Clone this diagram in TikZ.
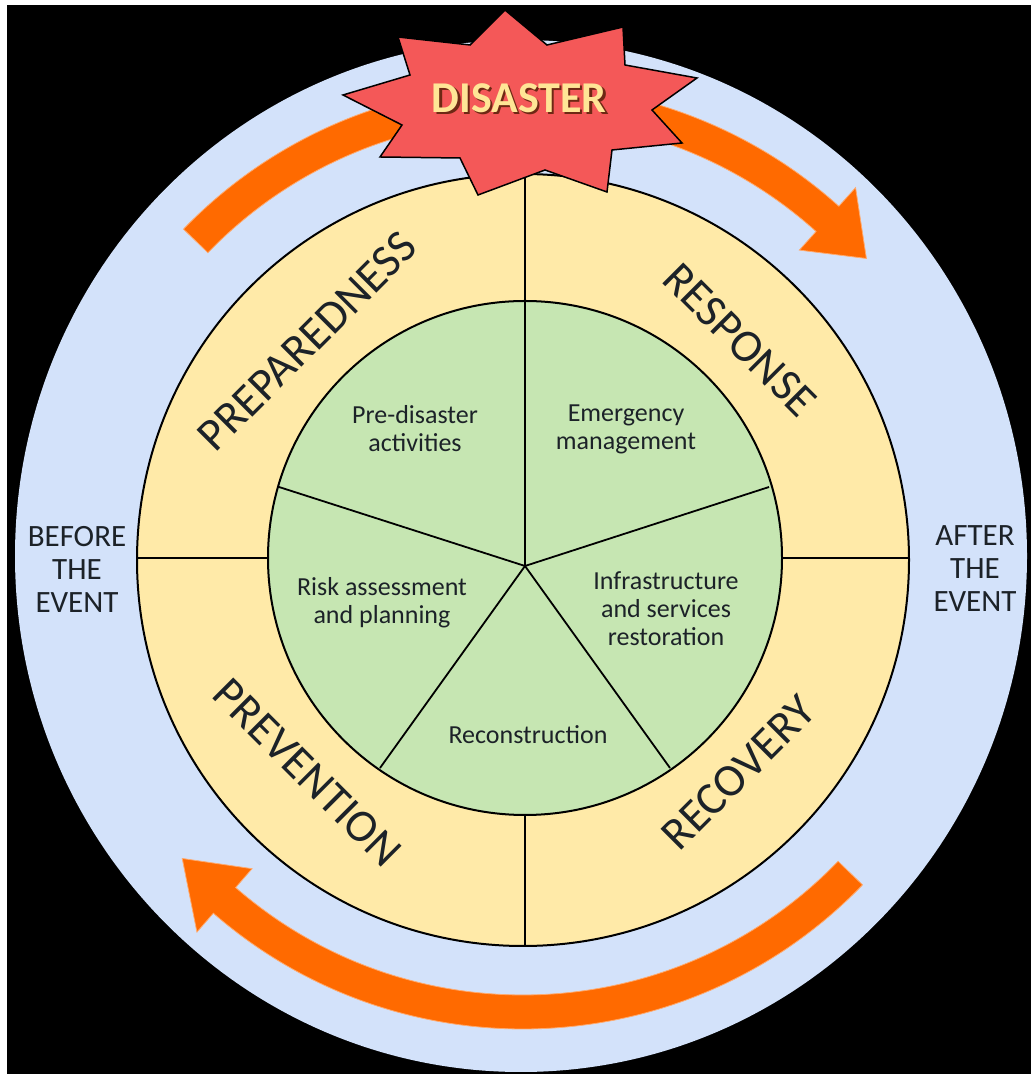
\documentclass[tikz,border=0pt]{standalone}
\usepackage{fontspec}
\setmainfont{Carlito}
\usetikzlibrary{calc}
\definecolor{bgblue}{RGB}{211,226,250}
\definecolor{ringyellow}{RGB}{255,234,168}
\definecolor{coregreen}{RGB}{198,230,178}
\definecolor{arroworange}{RGB}{255,106,0}
\definecolor{arrowedge}{RGB}{255,170,110}
\definecolor{starred}{RGB}{244,88,88}
\definecolor{startext}{RGB}{255,229,150}
\definecolor{starshadow}{RGB}{110,40,20}
\definecolor{inktext}{RGB}{28,34,40}
\begin{document}
\begin{tikzpicture}[x=1pt,y=1pt,
  outerlabel/.style={font=\fontsize{46}{46}\selectfont, text=inktext, inner sep=0pt},
  innerlabel/.style={font=\fontsize{26}{28}\selectfont, text=inktext, align=center, inner sep=0pt},
  sidelabel/.style={font=\fontsize{31}{33}\selectfont, text=inktext, align=center, inner sep=0pt},
  band/.style={fill=arroworange, draw=arrowedge, line width=0.8pt, line join=miter},
  divider/.style={draw=black, line width=2pt},
  spoke/.style={draw=black, line width=1.8pt},
  ringline/.style={draw=black, line width=2pt}]

\useasboundingbox (0,0) rectangle (1031,1074);
\fill[black] (0,0) rectangle (1031,1074);
\fill[white] (0,1069) rectangle (1031,1074);
\fill[white] (0,0) rectangle (7,1074);

% outer blue disc
\fill[bgblue] (521,518) ellipse [x radius=506, y radius=516];

% orange arrows
\coordinate (c) at (523,517);
\filldraw[band] ($(c)+(136:438)$) arc[start angle=136, end angle=100, radius=438]
  -- ($(c)+(100:472)$) arc[start angle=100, end angle=136, radius=472] -- cycle;
\filldraw[band] ($(c)+(80:438)$) arc[start angle=80, end angle=48, radius=438]
  -- ($(c)+(48:413)$) -- ($(c)+(41:455)$) -- ($(c)+(48:497)$)
  -- ($(c)+(48:472)$) arc[start angle=48, end angle=80, radius=472] -- cycle;
\filldraw[band] ($(c)+(316:438)$) arc[start angle=316, end angle=229, radius=438]
  -- ($(c)+(229:413)$) -- ($(c)+(221.5:455)$) -- ($(c)+(229:497)$)
  -- ($(c)+(229:472)$) arc[start angle=229, end angle=316, radius=472] -- cycle;

% yellow ring
\filldraw[fill=ringyellow, ringline] (523,514) circle[radius=386];
\draw[divider] (525,900) -- (525,516);
\draw[divider] (525,128) -- (525,516);
\draw[divider] (137,516) -- (909,516);

% green core
\filldraw[fill=coregreen, ringline] (525,516) circle[radius=257];
\coordinate (hub) at (525,508);
\coordinate (v1) at (525,773);
\coordinate (v2) at (769,587);
\coordinate (v3) at (670,306);
\coordinate (v4) at (380,306);
\coordinate (v5) at (279,587);
\foreach \v in {v1,v2,v3,v4,v5} \draw[spoke] (hub) -- (\v);

% star
\filldraw[fill=starred, draw=black, line width=1.5pt, line join=miter]
  (505,1064) -- (547,1029) -- (623,1047) -- (625,1009) -- (697,996) -- (652,964)
  -- (682,931) -- (612,924) -- (607,882) -- (545,904) -- (478,879) -- (460,916)
  -- (380,917) -- (402,949) -- (343,979) -- (410,999) -- (398,1037) -- (470,1029) -- cycle;
\node[font=\fontsize{44}{44}\selectfont\bfseries, text=starshadow, inner sep=0pt] (disshadow) at (521.5,973.5) {DISASTER};
\node[font=\fontsize{44}{44}\selectfont\bfseries, text=startext, inner sep=0pt] (disaster) at (519,976) {DISASTER};

% ring labels
\node[outerlabel, rotate=45] (prep) at ($(c)+(135:305)$) {PREPAREDNESS};
\node[outerlabel, rotate=-45] (resp) at ($(c)+(45:307)$) {RESPONSE};
\node[outerlabel, rotate=-45] (prev) at ($(c)+(225:305)$) {PREVENTION};
\node[outerlabel, rotate=45] (reco) at ($(c)+(315:305)$) {RECOVERY};

% core labels
\node[innerlabel] (predis) at (415,645) {Pre-disaster\\activities};
\node[innerlabel] (emerg) at (626,645) {Emergency\\management};
\node[innerlabel] (risk) at (382,471) {Risk assessment\\and planning};
\node[innerlabel] (infra) at (666,465) {Infrastructure\\and services\\restoration};
\node[innerlabel] (recon) at (528,339) {Reconstruction};

% side labels
\node[sidelabel] (before) at (77,505) {BEFORE\\THE\\EVENT};
\node[sidelabel] (after) at (975,505) {AFTER\\THE\\EVENT};
\end{tikzpicture}
\end{document}
